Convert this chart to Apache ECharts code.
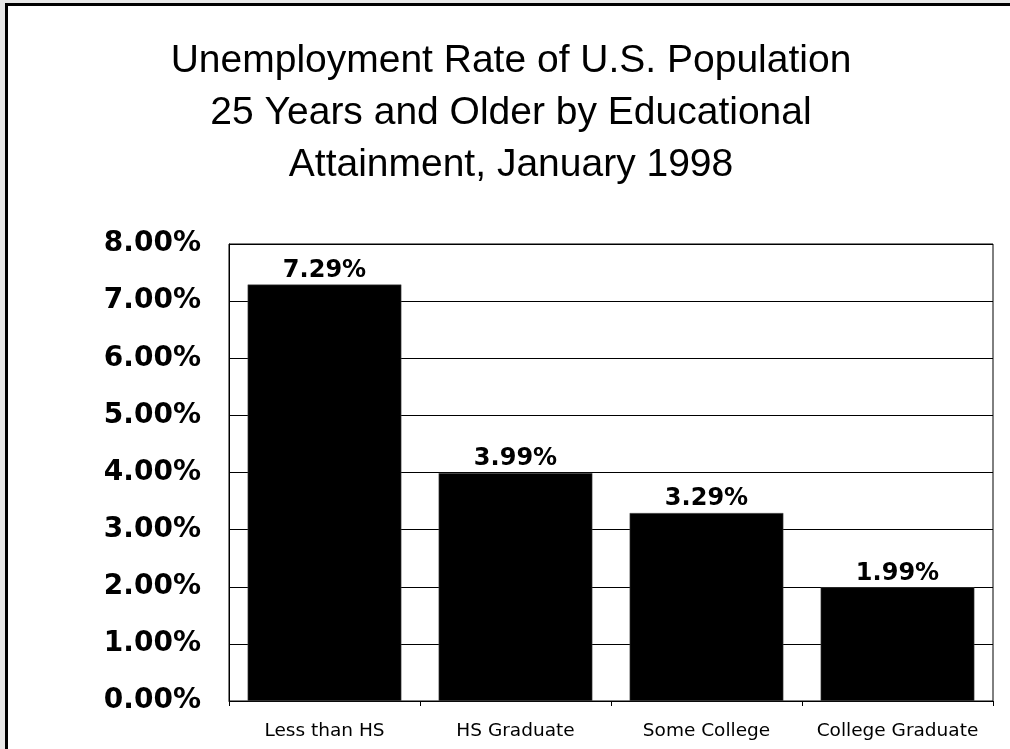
<!DOCTYPE html>
<html>
<head>
<meta charset="utf-8">
<script src="https://cdn.jsdelivr.net/npm/echarts@6/dist/echarts.min.js"></script>
<style>
  html, body { margin: 0; padding: 0; width: 1010px; height: 749px; overflow: hidden; background: #e8e8e8; }
  #frame { position: absolute; left: 5px; top: 3px; width: 1100px; height: 900px; border-top: 3px solid #000; border-left: 3px solid #000; background: #fff; }
  #chart { position: absolute; left: 0; top: 0; width: 1010px; height: 749px; }
</style>
</head>
<body>
<div id="frame"></div>
<div id="chart"></div>
<script>
const titleLines = ['Unemployment Rate of U.S. Population', '25 Years and Older by Educational', 'Attainment, January 1998'];
const categories = ['Less than HS', 'HS Graduate', 'Some College', 'College Graduate'];
const rates = [7.29, 3.99, 3.29, 1.99];
const yMin = 0, yMax = 8, yStep = 1;

const chart = echarts.init(document.getElementById('chart'), null, { renderer: 'canvas' });
chart.setOption({
  animation: false,
  title: {
    text: titleLines.join('\n'),
    left: 511,
    top: 35,
    padding: 0,
    textAlign: 'center',
    textStyle: { fontFamily: 'Liberation Sans', fontSize: 39, fontWeight: 'normal', color: '#000', lineHeight: 52 }
  },
  grid: { left: 229, right: 17, top: 244, bottom: 48, show: true, borderColor: '#000', borderWidth: 1, backgroundColor: 'transparent' },
  xAxis: {
    type: 'category',
    data: categories,
    axisLine: { show: true, lineStyle: { color: '#000', width: 1 } },
    axisTick: { show: true, length: 5, alignWithLabel: false, lineStyle: { color: '#000' } },
    axisLabel: { margin: 21, color: '#000', fontFamily: 'DejaVu Sans', fontSize: 18.5, interval: 0 }
  },
  yAxis: {
    type: 'value',
    min: yMin, max: yMax, interval: yStep,
    axisLine: { show: true, lineStyle: { color: '#000', width: 1 } },
    axisTick: { show: false },
    splitLine: { show: true, lineStyle: { color: '#000', width: 1 } },
    axisLabel: { margin: 28, color: '#000', fontFamily: 'DejaVu Sans', fontWeight: 'bold', fontSize: 28,
      formatter: v => v.toFixed(2) + '%' }
  },
  series: [{
    type: 'bar',
    data: rates,
    barCategoryGap: '19.5%',
    itemStyle: { color: '#000', borderColor: '#555', borderWidth: 0.5 },
    label: { show: true, position: 'top', distance: 2, color: '#000', fontFamily: 'DejaVu Sans', fontWeight: 'bold', fontSize: 24,
      formatter: p => p.value.toFixed(2) + '%' }
  }]
});
</script>
</body>
</html>
